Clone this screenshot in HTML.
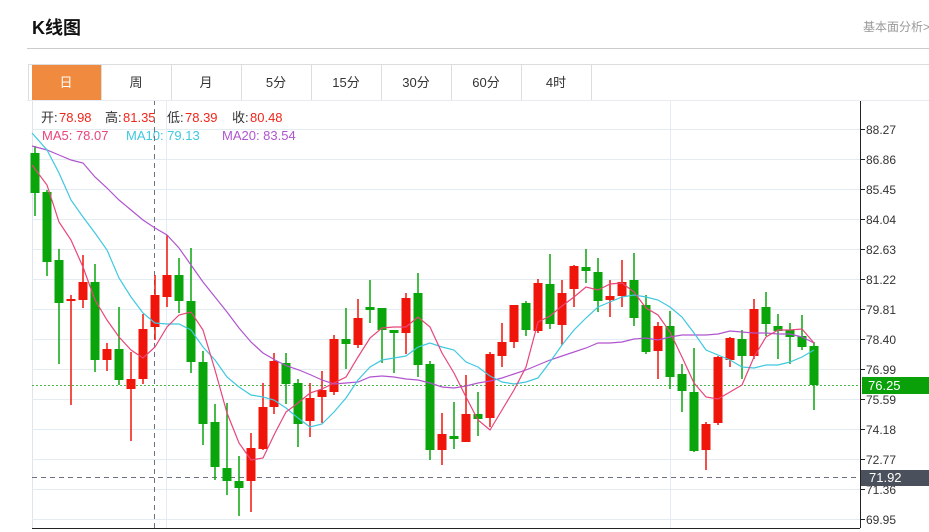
<!DOCTYPE html>
<html><head><meta charset="utf-8"><style>
body{margin:0;background:#fff;width:929px;height:532px;overflow:hidden;font-family:"Liberation Sans","Noto Sans CJK SC",sans-serif}
svg{position:absolute;left:0;top:0}
</style></head><body>
<svg width="929" height="532" xmlns="http://www.w3.org/2000/svg" font-family="Liberation Sans, Noto Sans CJK SC, sans-serif">
<text x="32" y="34" font-size="18" font-weight="bold" fill="#111">K线图</text>
<text x="863" y="31" font-size="12" fill="#999">基本面分析&gt;</text>
<line x1="27" y1="48.5" x2="929" y2="48.5" stroke="#ccc"/>
<rect x="28.5" y="64.5" width="920" height="36" fill="#fff" stroke="#ddd"/>
<rect x="32" y="65" width="69" height="35" fill="#f08a3e"/>
<g stroke="#ddd"><line x1="101.5" y1="65" x2="101.5" y2="100"/><line x1="171.5" y1="65" x2="171.5" y2="100"/><line x1="241.5" y1="65" x2="241.5" y2="100"/><line x1="311.5" y1="65" x2="311.5" y2="100"/><line x1="381.5" y1="65" x2="381.5" y2="100"/><line x1="451.5" y1="65" x2="451.5" y2="100"/><line x1="521.5" y1="65" x2="521.5" y2="100"/><line x1="591.5" y1="65" x2="591.5" y2="100"/></g>
<g font-size="13" fill="#333" text-anchor="middle"><text x="66" y="87" fill="#fff">日</text><text x="136" y="87">周</text><text x="206" y="87">月</text><text x="276" y="87">5分</text><text x="346" y="87">15分</text><text x="416" y="87">30分</text><text x="486" y="87">60分</text><text x="556" y="87">4时</text></g>
<line x1="32.5" y1="100" x2="32.5" y2="528" stroke="#dde4ec"/>
<g stroke="#e3ebf3"><line x1="32" y1="129.5" x2="860" y2="129.5"/><line x1="32" y1="159.5" x2="860" y2="159.5"/><line x1="32" y1="189.5" x2="860" y2="189.5"/><line x1="32" y1="219.5" x2="860" y2="219.5"/><line x1="32" y1="249.5" x2="860" y2="249.5"/><line x1="32" y1="279.5" x2="860" y2="279.5"/><line x1="32" y1="309.5" x2="860" y2="309.5"/><line x1="32" y1="339.5" x2="860" y2="339.5"/><line x1="32" y1="369.5" x2="860" y2="369.5"/><line x1="32" y1="399.5" x2="860" y2="399.5"/><line x1="32" y1="429.5" x2="860" y2="429.5"/><line x1="32" y1="459.5" x2="860" y2="459.5"/><line x1="32" y1="489.5" x2="860" y2="489.5"/><line x1="32" y1="519.5" x2="860" y2="519.5"/><line x1="166.5" y1="100" x2="166.5" y2="528"/><line x1="670.5" y1="100" x2="670.5" y2="528"/></g>
<g font-size="13" fill="#333">
<text x="41" y="122">开:</text><text x="59" y="122" fill="#f0261b">78.98</text>
<text x="105" y="122">高:</text><text x="123" y="122" fill="#f0261b">81.35</text>
<text x="167" y="122">低:</text><text x="185" y="122" fill="#f0261b">78.39</text>
<text x="232" y="122">收:</text><text x="250" y="122" fill="#f0261b">80.48</text>
<text x="42" y="140" fill="#e8457a">MA5: 78.07</text><text x="126" y="140" fill="#3fc8e0">MA10: 79.13</text><text x="222" y="140" fill="#b055cf">MA20: 83.54</text></g>
<line x1="32" y1="385.5" x2="860" y2="385.5" stroke="#4cb84c" stroke-dasharray="2,2"/>
<line x1="32" y1="477.5" x2="860" y2="477.5" stroke="#6b7380" stroke-dasharray="5,4"/>
<line x1="154.5" y1="100" x2="154.5" y2="528" stroke="#6b7380" stroke-dasharray="5,4"/>
<g id="c"></g>
<polyline fill="none" stroke="#b055cf" stroke-width="1.2" points="32,146 47,150 59,155 71,160 83,163 95,177 107,188 119,200 131,210 143,220 155,228 167,235 179,248 191,265 203,282 215,297 227,312 239,328 251,342 263,353 275,360 287,366 299,370 311,375 322,380 334,384 346,383 358,382 370,377 382,376 394,377 406,379 418,380 430,383 442,387 454,388 466,386 478,383 490,381 502,378 514,374 526,370 538,365 550,360 562,356 574,352 586,348 598,343 610,343 622,342 634,339 646,338 658,340 670,337 682,335 694,335 706,335 718,334 730,331 742,332 754,333 766,333 778,334 790,334 802,337 814,343"/>
<polyline fill="none" stroke="#3fc8e0" stroke-width="1.2" points="32,133 47,150 59,173 71,200 83,217 95,233 107,250 119,278 131,297 143,313 155,323 167,324 179,324 191,330 203,347 215,360 227,377 239,387 251,395 263,397 274,400 286,408 298,418 310,427 322,424 334,412 346,398 358,380 370,367 382,360 394,358 406,356 418,347 430,343 442,347 454,350 466,362 478,367 490,376 502,382 514,384 526,382 538,378 550,362 562,345 574,330 586,318 598,307 610,302 622,297 634,295 646,297 658,300 670,307 682,317 694,333 706,350 718,355 730,360 742,367 754,368 766,365 778,365 790,362 802,357 814,350"/>
<polyline fill="none" stroke="#e8457a" stroke-width="1.2" points="32,165 47,185 59,222 71,240 83,267 95,300 107,320 119,337 131,350 143,358 155,347 167,327 179,315 191,312 203,330 215,370 227,413 239,443 251,460 263,458 275,433 286,412 298,403 310,393 322,389 334,383 346,377 358,357 370,338 382,328 394,327 406,327 418,317 430,327 442,353 454,373 466,397 478,420 490,430 502,410 514,390 526,367 538,322 550,316 562,306 574,297 586,287 598,290 610,284 622,283 634,292 646,308 658,315 670,332 682,357 694,383 706,397 718,399 730,392 742,385 754,357 766,337 778,330 790,330 802,329 814,343"/>
<line x1="860.5" y1="100" x2="860.5" y2="528" stroke="#222"/>
<line x1="32" y1="528.5" x2="860" y2="528.5" stroke="#222"/>
<line x1="27" y1="100.5" x2="929" y2="100.5" stroke="#e8ecf0"/>
<g stroke="#222"><line x1="860" y1="129.5" x2="865" y2="129.5"/><line x1="860" y1="159.5" x2="865" y2="159.5"/><line x1="860" y1="189.5" x2="865" y2="189.5"/><line x1="860" y1="219.5" x2="865" y2="219.5"/><line x1="860" y1="249.5" x2="865" y2="249.5"/><line x1="860" y1="279.5" x2="865" y2="279.5"/><line x1="860" y1="309.5" x2="865" y2="309.5"/><line x1="860" y1="339.5" x2="865" y2="339.5"/><line x1="860" y1="369.5" x2="865" y2="369.5"/><line x1="860" y1="399.5" x2="865" y2="399.5"/><line x1="860" y1="429.5" x2="865" y2="429.5"/><line x1="860" y1="459.5" x2="865" y2="459.5"/><line x1="860" y1="489.5" x2="865" y2="489.5"/><line x1="860" y1="519.5" x2="865" y2="519.5"/></g>
<g font-size="12" fill="#333"><text x="866" y="134">88.27</text><text x="866" y="164">86.86</text><text x="866" y="194">85.45</text><text x="866" y="224">84.04</text><text x="866" y="254">82.63</text><text x="866" y="284">81.22</text><text x="866" y="314">79.81</text><text x="866" y="344">78.40</text><text x="866" y="374">76.99</text><text x="866" y="404">75.59</text><text x="866" y="434">74.18</text><text x="866" y="464">72.77</text><text x="866" y="494">71.36</text><text x="866" y="524">69.95</text></g>
<rect x="862" y="377" width="67" height="17" fill="#0aa00a"/><text x="868" y="390" font-size="13" fill="#fff">76.25</text>
<rect x="861" y="470" width="68" height="16" fill="#4b515c"/><text x="869" y="482" font-size="13" fill="#fff">71.92</text>
</svg>
<script>
var d=[[35,'g',153,193,146,216],[47,'g',192,262,190,276],[59,'g',260,303,249,364],[71,'r',299,301,295,405],[83,'r',282,300,255,308],[95,'g',282,360,264,372],[107,'r',349,360,343,371],[119,'g',349,380,307,385],[131,'r',379,389,352,441],[143,'r',329,379,314,384],[155,'r',295,327,275,340],[167,'r',275,297,235,307],[179,'g',275,301,258,313],[191,'g',301,362,248,373],[203,'g',362,424,351,445],[215,'g',422,467,404,480],[227,'g',468,481,403,495],[239,'g',481,488,456,516],[251,'r',448,481,433,512],[263,'r',407,449,383,450],[274,'r',361,407,353,414],[286,'g',363,384,353,404],[298,'g',383,424,379,447],[310,'r',398,421,383,437],[322,'r',390,397,371,423],[334,'r',339,392,335,395],[346,'g',339,344,308,369],[358,'r',318,345,299,348],[370,'g',307,310,280,323],[382,'g',308,330,308,363],[394,'g',330,333,330,373],[406,'r',298,333,293,354],[418,'g',293,365,273,377],[430,'g',364,450,361,460],[442,'r',434,450,413,465],[454,'g',436,439,402,449],[466,'r',414,442,375,442],[478,'g',414,419,392,436],[490,'r',354,418,352,427],[502,'r',342,356,323,367],[514,'r',305,342,305,348],[526,'g',303,330,301,336],[538,'r',283,331,279,333],[550,'g',284,324,254,329],[562,'r',293,325,280,345],[574,'r',266,289,265,307],[586,'g',267,271,249,283],[598,'g',272,301,258,312],[610,'r',296,300,280,317],[622,'r',282,296,260,307],[634,'g',280,318,253,326],[646,'g',305,352,295,354],[658,'r',326,351,322,379],[670,'g',326,377,311,389],[682,'g',374,391,364,412],[694,'g',392,451,348,452],[706,'r',424,450,422,470],[718,'r',357,423,356,425],[730,'r',338,360,337,367],[742,'g',339,356,330,379],[754,'r',309,356,299,359],[766,'g',307,324,292,336],[778,'g',326,331,314,359],[790,'g',330,337,323,364],[802,'g',336,347,315,350],[814,'g',346,385,342,410]];
var s='';d.forEach(function(c){var col=c[1]=='r'?'#f0150a':'#0aa50a';s+='<line x1="'+c[0]+'" x2="'+c[0]+'" y1="'+c[4]+'" y2="'+c[5]+'" stroke="'+col+'" stroke-width="1.5"/><rect x="'+(c[0]-4.5)+'" y="'+c[2]+'" width="9" height="'+Math.max(2,c[3]-c[2])+'" fill="'+col+'"/>';});
document.getElementById('c').innerHTML=s;
</script>
</body></html>
